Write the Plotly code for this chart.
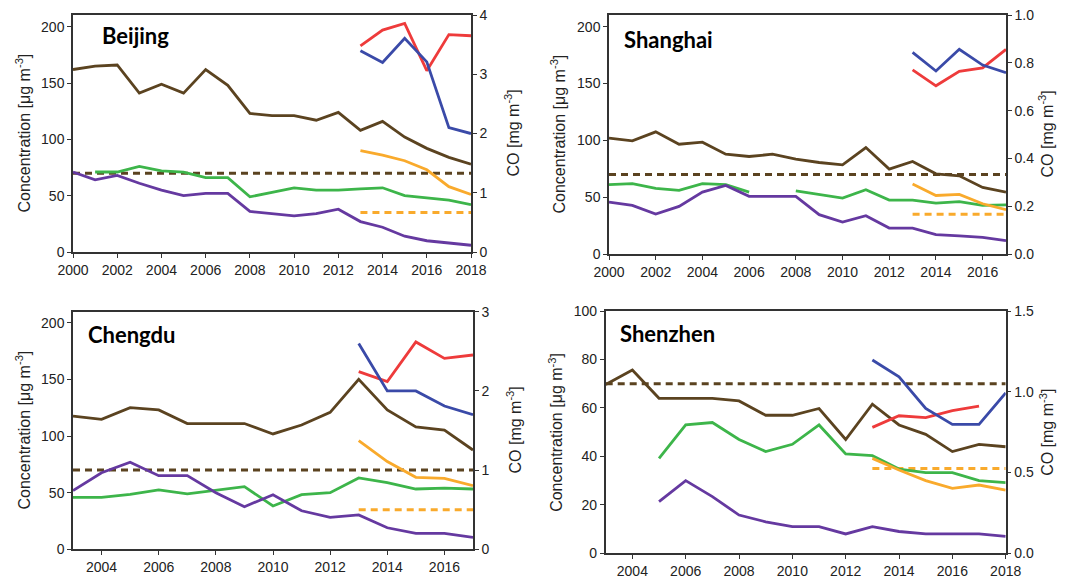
import plotly.graph_objects as go

# ---------------- data ----------------
# Beijing
bj_years = list(range(2000, 2019))
bj_pm10 = [162, 165, 166, 141, 149, 141, 162, 148, 123, 121, 121, 117, 124, 108, 116, 102, 92, 84, 78]
bj_no2_years = list(range(2001, 2019))
bj_no2 = [71, 71, 76, 72, 71, 66, 66, 49, 53, 57, 55, 55, 56, 57, 50, 48, 46, 42]
bj_so2 = [71, 64, 68, 61, 55, 50, 52, 52, 36, 34, 32, 34, 38, 27, 22, 14, 10, 8, 6]
bj_recent_years = list(range(2013, 2019))
bj_pm25 = [90, 86, 81, 73, 58, 51]
bj_o3 = [183, 197, 203, 161, 193, 192]
bj_co = [3.40, 3.20, 3.61, 3.21, 2.10, 2.00]

# Shanghai
sh_years = list(range(2000, 2018))
sh_pm10 = [102, 99.6, 107.5, 96.6, 98.4, 87.8, 85.8, 87.8, 83.5, 80.5, 78.5, 93.7, 74.7, 81.4, 70.6, 68.8, 58.6, 54.5]
sh_no2_years = list(range(2000, 2018))
sh_no2 = [61, 62, 57.7, 56, 62, 61, 54.5, None, 55.6, 52.7, 49.2, 56.5, 47.4, 47.4, 44.8, 46, 42.8, 43.3]
sh_so2 = [45.7, 42.8, 35.1, 41.9, 54.5, 60.3, 50.7, 50.7, 50.7, 34.6, 28.1, 33.7, 22.8, 22.8, 17, 16, 14.6, 11.7]
sh_recent_years = list(range(2013, 2018))
sh_pm25 = [61.5, 51.5, 52.4, 44.2, 39]
sh_o3 = [162, 148, 160.8, 163.7, 180]
sh_co = [0.844, 0.766, 0.857, 0.791, 0.759]

# Chengdu
cd_years = list(range(2003, 2018))
cd_pm10 = [117.6, 114.7, 125, 123, 111, 111, 111, 101.8, 109.7, 120.9, 150, 123, 108, 105.3, 87.6]
cd_no2 = [45.9, 45.9, 48.5, 52.4, 49, 52.4, 55.3, 38.2, 48.2, 50, 63, 58.8, 53.2, 54, 53.2]
cd_so2 = [51.8, 67.6, 76.8, 65, 65, 50, 37.6, 48.2, 34, 28.2, 30.3, 19, 14, 14, 10.6]
cd_recent_years = list(range(2013, 2018))
cd_pm25 = [96, 77.4, 63.5, 62.6, 56.2]
cd_o3 = [156.8, 148, 183, 168.5, 171.5]
cd_co = [2.60, 2.00, 2.00, 1.81, 1.70]

# Shenzhen
sz_years = list(range(2003, 2019))
sz_pm10 = [69.7, 75.7, 64, 64, 64, 62.9, 57, 57, 59.8, 47, 61.6, 53, 49.1, 42, 45, 44]
sz_sub_years = list(range(2005, 2019))
sz_no2 = [39.2, 53, 54, 47, 42, 45, 53, 41, 40.3, 34.8, 33.3, 33.3, 30, 29.2]
sz_so2 = [21.3, 30, 23.4, 15.8, 13, 11, 11, 8, 11, 9, 8, 8, 8, 7]
sz_recent_years = list(range(2013, 2019))
sz_pm25 = [39.2, 34.4, 30, 26.8, 28.2, 26.1]
sz_o3_years = list(range(2013, 2018))
sz_o3 = [52, 56.8, 56, 58.9, 60.8]
sz_co = [1.197, 1.093, 0.897, 0.798, 0.798, 0.994]

# standards (dashed reference lines)
pm10_standard = 70
pm25_standard = 35

# ---------------- styling ----------------
C_BROWN = "#5b4320"
C_GREEN = "#3db54a"
C_PURPLE = "#6539a0"
C_ORANGE = "#f9aa2c"
C_RED = "#ee3b3b"
C_BLUE = "#3a4aa8"
LW = 2.8
ARIAL = "Liberation Sans"
TICKFONT = dict(family=ARIAL, size=14, color="#222")
AXCOL = "#333"

fig = go.Figure()

panels = [
    dict(name="Beijing", xr=[2000, 2018], yr=[0, 210.4], y2r=[0, 4.002], y2dt=1, y2fmt="d",
         xd=[73, 471], yd=[15, 252], ydt=50,
         series=[
             (bj_years, bj_pm10, C_BROWN, "y"),
             (bj_no2_years, bj_no2, C_GREEN, "y"),
             (bj_years, bj_so2, C_PURPLE, "y"),
             (bj_recent_years, bj_pm25, C_ORANGE, "y"),
             (bj_recent_years, bj_o3, C_RED, "y"),
             (bj_recent_years, bj_co, C_BLUE, "y2"),
         ],
         std10=[2000, 2018], std25=[2013, 2018], label=(135, 36)),
    dict(name="Shanghai", xr=[2000, 2017], yr=[0, 210.3], y2r=[0, 1.0005], y2dt=0.2, y2fmt=".1f",
         xd=[609, 1006], yd=[15, 254], ydt=50,
         series=[
             (sh_years, sh_pm10, C_BROWN, "y"),
             (sh_no2_years, sh_no2, C_GREEN, "y"),
             (sh_years, sh_so2, C_PURPLE, "y"),
             (sh_recent_years, sh_pm25, C_ORANGE, "y"),
             (sh_recent_years, sh_o3, C_RED, "y"),
             (sh_recent_years, sh_co, C_BLUE, "y2"),
         ],
         std10=[2000, 2017], std25=[2013, 2017], label=(668, 40)),
    dict(name="Chengdu", xr=[2003, 2017], yr=[0, 209.7], y2r=[0, 3.001], y2dt=1, y2fmt="d",
         xd=[73, 473], yd=[311.7, 549.3], ydt=50,
         series=[
             (cd_years, cd_pm10, C_BROWN, "y"),
             (cd_years, cd_no2, C_GREEN, "y"),
             (cd_years, cd_so2, C_PURPLE, "y"),
             (cd_recent_years, cd_pm25, C_ORANGE, "y"),
             (cd_recent_years, cd_o3, C_RED, "y"),
             (cd_recent_years, cd_co, C_BLUE, "y2"),
         ],
         std10=[2003, 2017], std25=[2013, 2017], label=(131, 334)),
    dict(name="Shenzhen", xr=[2003, 2018], yr=[0, 100.05], y2r=[0, 1.5007], y2dt=0.5, y2fmt=".1f",
         xd=[605.7, 1005.7], yd=[311, 553.3], ydt=20,
         series=[
             (sz_years, sz_pm10, C_BROWN, "y"),
             (sz_sub_years, sz_no2, C_GREEN, "y"),
             (sz_sub_years, sz_so2, C_PURPLE, "y"),
             (sz_recent_years, sz_pm25, C_ORANGE, "y"),
             (sz_o3_years, sz_o3, C_RED, "y"),
             (sz_recent_years, sz_co, C_BLUE, "y2"),
         ],
         std10=[2003, 2018], std25=[2013, 2018], label=(667, 333)),
]

# the page body adds an 8 px margin, so the figure is offset by 8 px
OFF = 8
W, H = 1086 - OFF, 583 - OFF


def fx(px):
    return (px - OFF) / W


def fy(py):
    return 1 - (py - OFF) / H


layout = dict(
    template="none",
    width=W, height=H, margin=dict(l=0, r=0, t=0, b=0, pad=0),
    paper_bgcolor="white", plot_bgcolor="white", showlegend=False,
    font=dict(family=ARIAL, color="#222"),
)
annotations = []

for i, p in enumerate(panels):
    n = i + 1
    xa = "x" if n == 1 else f"x{n}"
    ya = f"y{2*n-1}" if n > 1 else "y"
    yb = f"y{2*n}"
    xkey = "xaxis" if n == 1 else f"xaxis{n}"
    yakey = "yaxis" if n == 1 else f"yaxis{2*n-1}"
    ybkey = f"yaxis{2*n}"
    xdom = [fx(p["xd"][0]), fx(p["xd"][1])]
    ydom = [fy(p["yd"][1]), fy(p["yd"][0])]

    # reference (standard) lines
    fig.add_trace(go.Scatter(x=p["std10"], y=[pm10_standard] * 2, mode="lines",
                             line=dict(color=C_BROWN, width=3, dash="7px,5px"),
                             xaxis=xa, yaxis=ya, hoverinfo="skip"))
    fig.add_trace(go.Scatter(x=p["std25"], y=[pm25_standard] * 2, mode="lines",
                             line=dict(color=C_ORANGE, width=3, dash="7px,5px"),
                             xaxis=xa, yaxis=ya, hoverinfo="skip"))
    for xs, ys, col, which in p["series"]:
        fig.add_trace(go.Scatter(x=xs, y=ys, mode="lines",
                                 line=dict(color=col, width=LW),
                                 connectgaps=False,
                                 xaxis=xa, yaxis=ya if which == "y" else yb))

    common = dict(showline=True, linecolor=AXCOL, linewidth=1.5, ticks="outside",
                  ticklen=4, tickwidth=1.2, tickcolor=AXCOL, showgrid=False,
                  zeroline=False, tickfont=TICKFONT, automargin=False,
                  ticklabeloverflow="allow")
    layout[xkey] = dict(domain=xdom, range=p["xr"], tick0=2000, dtick=2, mirror=True,
                        anchor=ya, **common)
    layout[yakey] = dict(domain=ydom, range=p["yr"], dtick=p["ydt"], tick0=0,
                         anchor=xa, **common)
    layout[ybkey] = dict(domain=ydom, range=p["y2r"], dtick=p["y2dt"], tick0=0,
                         tickformat=p["y2fmt"], overlaying=ya, side="right",
                         anchor=xa, **common)

    # city label
    annotations.append(dict(text=f"<b>{p['name']}</b>", x=fx(p["label"][0]), y=fy(p["label"][1]),
                            xref="paper", yref="paper", xanchor="center", yanchor="middle",
                            showarrow=False,
                            font=dict(family="Lato", size=22, color="black")))
    # axis titles
    ymid = fy((p["yd"][0] + p["yd"][1]) / 2)
    annotations.append(dict(text="Concentration [μg m<sup>-3</sup>]", textangle=-90,
                            x=fx(p["xd"][0] - 50), y=ymid, xref="paper", yref="paper",
                            xanchor="center", yanchor="middle", showarrow=False,
                            font=dict(family=ARIAL, size=16, color="#222")))
    annotations.append(dict(text="CO [mg m<sup>-3</sup>]", textangle=-90,
                            x=fx(p["xd"][1] + 41), y=ymid, xref="paper", yref="paper",
                            xanchor="center", yanchor="middle", showarrow=False,
                            font=dict(family=ARIAL, size=16, color="#222")))

layout["annotations"] = annotations
fig.update_layout(**layout)
fig.write_html("out.html")
